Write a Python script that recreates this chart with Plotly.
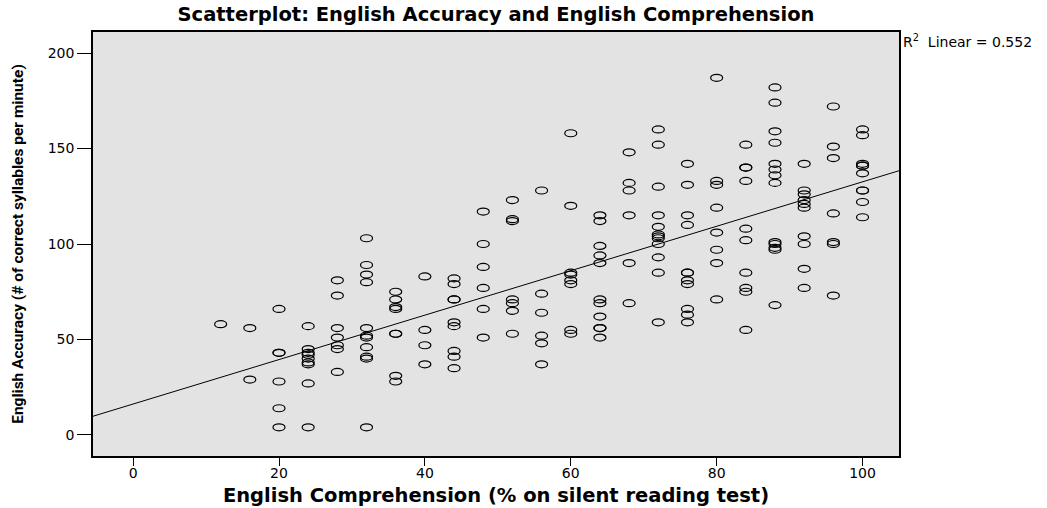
import numpy as np
import plotly.graph_objects as go

# ---- data ----
comprehension_levels = [12, 16, 20, 24, 28, 32, 36, 40, 44, 48, 52, 56,
                        60, 64, 68, 72, 76, 80, 84, 88, 92, 96, 100]

accuracy_by_level = [
    [58],
    [56, 29],
    [66, 43, 43, 28, 14, 4],
    [57, 45, 43, 42, 40, 38, 37, 27, 4],
    [81, 73, 56, 51, 47, 45, 33],
    [103, 89, 84, 80, 56, 52, 51, 46, 41, 40, 4],
    [75, 71, 67, 66, 53, 53, 31, 28],
    [83, 55, 47, 37],
    [82, 79, 71, 71, 59, 57, 44, 41, 35],
    [117, 100, 88, 77, 66, 51],
    [123, 113, 112, 71, 69, 65, 53],
    [128, 74, 64, 52, 48, 37],
    [158, 120, 85, 84, 81, 79, 55, 53],
    [115, 112, 99, 94, 90, 71, 69, 62, 56, 56, 51],
    [148, 132, 128, 115, 90, 69],
    [160, 152, 130, 115, 109, 105, 104, 103, 100, 93, 85, 59],
    [142, 131, 115, 110, 85, 85, 81, 79, 66, 63, 59],
    [187, 133, 131, 119, 106, 97, 90, 71],
    [152, 140, 140, 133, 108, 102, 85, 77, 75, 55],
    [182, 174, 159, 153, 142, 139, 136, 132, 101, 100, 98, 97, 68],
    [142, 128, 126, 123, 121, 119, 104, 100, 87, 77],
    [172, 151, 145, 116, 101, 100, 73],
    [160, 157, 142, 141, 141, 137, 128, 128, 122, 114],
]

x_ticks = [0, 20, 40, 60, 80, 100]
y_ticks = [0, 50, 100, 150, 200]
x_range = [-5.5, 105]
y_range = [-11, 211]
r2_label = "R<sup>2</sup>  Linear = 0.552"

# ---- flatten ----
xs, ys = [], []
for lvl, vals in zip(comprehension_levels, accuracy_by_level):
    for v in vals:
        xs.append(lvl)
        ys.append(v)
xs = np.array(xs, dtype=float)
ys = np.array(ys, dtype=float)

slope, intercept = np.polyfit(xs, ys, 1)
line_x = np.array(x_range)
line_y = intercept + slope * line_x

fig = go.Figure()

fig.add_trace(go.Scatter(
    x=xs, y=ys, mode="markers",
    marker=dict(size=12, color="rgba(0,0,0,0)"),
    hovertemplate="%{x}, %{y}<extra></extra>",
    showlegend=False,
))

fig.add_trace(go.Scatter(
    x=line_x, y=line_y, mode="lines",
    line=dict(color="black", width=1),
    hoverinfo="skip", showlegend=False,
))

# open elliptical markers (SPSS style), anchored at each data point
shapes = []
for x, y in zip(xs, ys):
    shapes.append(dict(
        type="circle", xref="x", yref="y",
        xsizemode="pixel", ysizemode="pixel",
        xanchor=x, yanchor=y,
        x0=-6, x1=6, y0=-3.5, y1=3.5,
        line=dict(color="black", width=1.2),
        fillcolor="rgba(0,0,0,0)",
    ))

fig.update_layout(
    width=1047, height=508,
    margin=dict(l=93, r=148, t=32, b=52),
    paper_bgcolor="white",
    plot_bgcolor="#E3E3E3",
    shapes=shapes,
    title=dict(
        text="<b>Scatterplot: English Accuracy and English Comprehension</b>",
        x=496 / 1047, xref="container", xanchor="center",
        y=1 - 14 / 508, yref="container", yanchor="middle",
        font=dict(family="DejaVu Sans", size=19.5, color="black"),
    ),
    annotations=[dict(
        text=r2_label, xref="paper", yref="paper",
        x=1.003, y=1.0, xanchor="left", yanchor="middle", yshift=-9,
        showarrow=False,
        font=dict(family="DejaVu Sans", size=14, color="black"),
    )],
    font=dict(family="DejaVu Sans", color="black"),
)

fig.update_xaxes(
    range=x_range, tickvals=x_ticks, automargin=False,
    showgrid=False, zeroline=False,
    showline=True, mirror=True, linecolor="black", linewidth=1.5,
    ticks="outside", ticklen=8, tickcolor="black",
    ticklabelstandoff=-5,
    tickfont=dict(family="DejaVu Sans", size=14, color="black"),
    title=dict(
        text="<b>English Comprehension (% on silent reading test)</b>",
        font=dict(family="DejaVu Sans", size=19.5, color="black"),
        standoff=9,
    ),
)

fig.update_yaxes(
    range=y_range, tickvals=y_ticks, automargin=False,
    showgrid=False, zeroline=False,
    showline=True, mirror=True, linecolor="black", linewidth=1.5,
    ticks="outside", ticklen=14, tickcolor="black",
    tickfont=dict(family="DejaVu Sans", size=14, color="black"),
    title=dict(
        text="<b>English Accuracy (# of correct syllables per minute)</b>",
        font=dict(family="Roboto", size=15.5, color="black"),
        standoff=20,
    ),
)

fig.write_html("out.html")
